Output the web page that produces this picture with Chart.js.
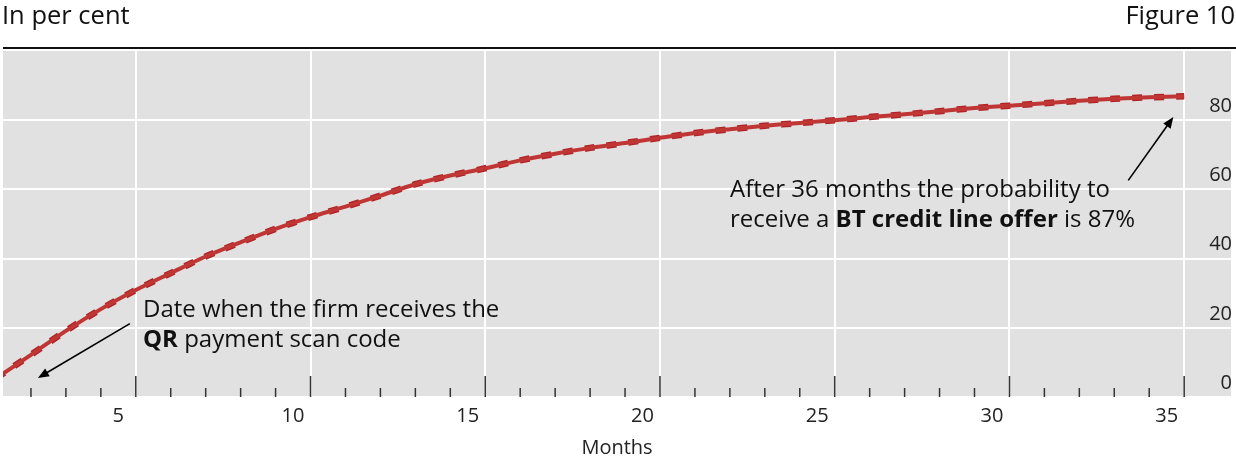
<!DOCTYPE html>
<html lang="en">
<head>
    <meta charset="UTF-8">
    <title>Figure 10</title>
    <script src="https://cdn.jsdelivr.net/npm/chart.js"></script>
    <style>
        html, body { margin: 0; padding: 0; background: #fff; }
        .wrap { width: 1236px; height: 461px; position: relative; }
    </style>
</head>
<body>
    <div class="wrap">
        <canvas id="fig"></canvas>
    </div>

    <script>
        // month positions (label n sits at n, month boundaries at n + 0.5)
        const months = [1.5, 2.5, 3.5, 4.5, 5.5, 6.5, 7.5, 8.5, 9.5, 10.5, 11.5, 12.5,
            13.5, 14.5, 15.5, 16.5, 17.5, 18.5, 19.5, 20.5, 21.5, 22.5, 23.5, 24.5,
            25.5, 26.5, 27.5, 28.5, 29.5, 30.5, 31.5, 32.5, 33.5, 34.5, 35.5];
        // probability of receiving a BT credit line offer, in per cent
        const probability = [5.4, 12.2, 19.1, 25.4, 30.9, 35.8, 40.6, 44.7, 48.6, 52.0, 55.0, 58.2,
            61.5, 64.0, 66.1, 68.4, 70.3, 72.0, 73.4, 74.9, 76.3, 77.4, 78.4, 79.2,
            80.0, 80.9, 81.7, 82.6, 83.5, 84.2, 84.9, 85.6, 86.2, 86.6, 86.9];
        const majorTicks = [5.5, 10.5, 15.5, 20.5, 25.5, 30.5, 35.5];
        const xTickLabels = ['5', '10', '15', '20', '25', '30', '35'];
        const yTicks = [0, 20, 40, 60, 80];

        const FONT = '"Open Sans", "Noto Sans", sans-serif';
        const points = months.map((m, i) => ({ x: m, y: probability[i] }));

        // text with bold runs: [[text, bold], ...]
        function drawRuns(ctx, runs, x, y, size) {
            runs.forEach(([txt, bold]) => {
                ctx.font = (bold ? 'bold ' : '') + size + 'px ' + FONT;
                ctx.fillText(txt, x, y);
                x += ctx.measureText(txt).width;
            });
        }

        function arrow(ctx, x1, y1, x2, y2) {
            const a = Math.atan2(y2 - y1, x2 - x1);
            const len = 11, w = 4.5;
            ctx.strokeStyle = '#000';
            ctx.fillStyle = '#000';
            ctx.lineWidth = 1.6;
            ctx.beginPath();
            ctx.moveTo(x1, y1);
            ctx.lineTo(x2 - Math.cos(a) * len * 0.8, y2 - Math.sin(a) * len * 0.8);
            ctx.stroke();
            ctx.beginPath();
            ctx.moveTo(x2, y2);
            ctx.lineTo(x2 - Math.cos(a) * len - Math.sin(a) * w, y2 - Math.sin(a) * len + Math.cos(a) * w);
            ctx.lineTo(x2 - Math.cos(a) * len + Math.sin(a) * w, y2 - Math.sin(a) * len - Math.cos(a) * w);
            ctx.closePath();
            ctx.fill();
        }

        const backdrop = {
            id: 'backdrop',
            beforeDraw(chart) {
                const { ctx, chartArea } = chart;
                ctx.save();
                ctx.fillStyle = '#fff';
                ctx.fillRect(0, 0, chart.width, chart.height);
                ctx.fillStyle = '#e1e1e1';
                ctx.fillRect(chartArea.left, chartArea.top, chartArea.right - chartArea.left, chartArea.bottom - chartArea.top);
                // rule above the panel
                ctx.fillStyle = '#111';
                ctx.fillRect(3, 47, chart.width - 3, 2);
                // headings
                ctx.fillStyle = '#111';
                ctx.font = '25.5px ' + FONT;
                ctx.textBaseline = 'alphabetic';
                ctx.textAlign = 'left';
                ctx.fillText('In per cent', 2, 24);
                ctx.textAlign = 'right';
                ctx.fillText('Figure 10', 1235, 24);
                ctx.restore();
            },
            afterDatasetsDraw(chart) {
                const { ctx, chartArea } = chart;
                const xs = chart.scales.x;
                const ys = chart.scales.y;
                ctx.save();
                // inward tick marks at month boundaries
                ctx.strokeStyle = '#333';
                ctx.lineWidth = 1.5;
                months.forEach(m => {
                    const px = xs.getPixelForValue(m);
                    if (px < chartArea.left || px > chartArea.right) return;
                    const major = majorTicks.includes(m);
                    ctx.beginPath();
                    ctx.moveTo(px, chartArea.bottom);
                    ctx.lineTo(px, chartArea.bottom - (major ? 21 : 9));
                    ctx.stroke();
                });
                // annotations
                ctx.fillStyle = '#111';
                ctx.textAlign = 'left';
                ctx.textBaseline = 'alphabetic';
                drawRuns(ctx, [['Date when the firm receives the', false]], 143, 317, 24);
                drawRuns(ctx, [['QR', true], [' payment scan code', false]], 143, 347, 24);
                drawRuns(ctx, [['After 36 months the probability to', false]], 730, 197, 24);
                drawRuns(ctx, [['receive a ', false], ['BT credit line offer', true], [' is 87%', false]], 730, 227, 24);
                arrow(ctx, xs.getPixelForValue(5.33), ys.getPixelForValue(21.2),
                    xs.getPixelForValue(2.7), ys.getPixelForValue(5.5));
                arrow(ctx, xs.getPixelForValue(33.9), ys.getPixelForValue(62.6),
                    xs.getPixelForValue(35.19), ys.getPixelForValue(80.9));
                ctx.restore();
            }
        };

        const ctx = document.getElementById('fig').getContext('2d');
        const chart = new Chart(ctx, {
            type: 'line',
            data: {
                datasets: [{
                    label: 'Probability',
                    data: points,
                    borderColor: '#c03634',
                    borderWidth: 4,
                    pointRadius: 0,
                    tension: 0.3,
                    fill: false
                }, {
                    label: 'Probability (dashed)',
                    data: points,
                    borderColor: '#ae2427',
                    borderWidth: 6.5,
                    borderDash: [10, 12],
                    pointRadius: 0,
                    tension: 0.3,
                    fill: false
                }]
            },
            options: {
                responsive: true,
                maintainAspectRatio: false,
                animation: false,
                layout: { padding: { left: 3, right: 3, top: 51, bottom: 0 } },
                plugins: {
                    legend: { display: false },
                    tooltip: { enabled: false }
                },
                scales: {
                    x: {
                        type: 'linear',
                        min: 1.7,
                        max: 36.84,
                        afterBuildTicks: scale => {
                            scale.ticks = majorTicks.map(v => ({ value: v }));
                        },
                        border: { display: false },
                        grid: { color: '#fff', lineWidth: 2, drawTicks: false },
                        ticks: {
                            autoSkip: false,
                            maxRotation: 0,
                            padding: 7,
                            labelOffset: -17.5,
                            color: '#222',
                            font: { family: FONT, size: 20 },
                            callback: (v, i) => xTickLabels[i]
                        },
                        title: {
                            display: true,
                            text: 'Months',
                            color: '#222',
                            font: { family: FONT, size: 20 },
                            padding: { top: 1, bottom: 1 }
                        }
                    },
                    y: {
                        position: 'right',
                        min: 0,
                        max: 100,
                        afterBuildTicks: scale => {
                            scale.ticks = yTicks.map(v => ({ value: v }));
                        },
                        border: { display: false },
                        grid: { color: '#fff', lineWidth: 2, drawTicks: false },
                        ticks: {
                            mirror: true,
                            padding: 1,
                            labelOffset: -14,
                            color: '#222',
                            font: { family: FONT, size: 20 }
                        }
                    }
                }
            },
            plugins: [backdrop]
        });
    </script>
</body>
</html>
